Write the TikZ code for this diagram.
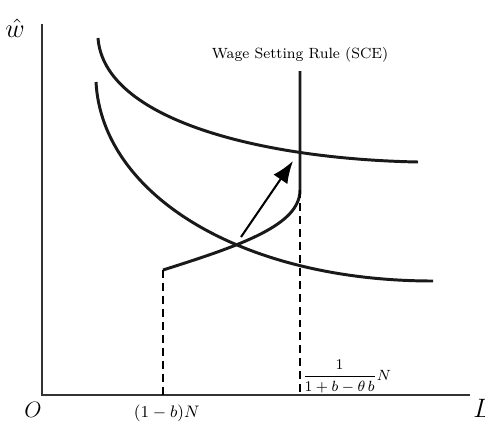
\documentclass[tikz,border=0pt]{standalone}
\usepackage{amsmath,amssymb}
\usetikzlibrary{positioning,arrows.meta}
\tikzset{
  figaxis/.style={line width=1pt, black!80},
  figcurve/.style={line width=1.6pt, black!90},
  figguide/.style={dash pattern=on 4.3pt off 2.7pt, line width=0.7pt},
  figarrow/.style={-{Latex[length=4.2mm,width=3.2mm]}, line width=1.1pt},
  figlabel/.style={font=\small, inner sep=1pt},
}
\begin{document}
\begin{tikzpicture}[x=0.019cm, y=0.019cm]
  \useasboundingbox (-42,-26) rectangle (443,395);
  % axes
  \coordinate (O) at (0,0);
  \coordinate (ytop) at (0,371);
  \coordinate (xend) at (428,0);
  \draw[figaxis] (ytop) -- (O) -- (xend);
  \node[font=\Large, inner sep=0] (wlab) at (-27,367) {$\hat{w}$};
  \node[font=\large, inner sep=0] (olab) at (-9,-15) {$O$};
  \node[font=\Large, inner sep=0, anchor=west] (llab) at (431,-13) {$L$};
  % the two downward curves
  \draw[figcurve] (56,357) .. controls (62,275) and (220,236) .. (376,233);
  \draw[figcurve] (54,313) .. controls (60,200) and (200,114) .. (391,114);
  % wage setting rule
  \coordinate (wlow) at (121,125);
  \coordinate (wkink) at (258,205);
  \coordinate (wtop) at (258,324);
  \draw[figcurve] (wlow) .. controls (200,150) and (258,170) .. (wkink) -- (wtop);
  \node[figlabel, font=\footnotesize, above=1.2mm of wtop] (wsr) {Wage Setting Rule (SCE)};
  % shift
  \coordinate (atail) at (199,158);
  \coordinate (ahead) at (251,234);
  \draw[figarrow] (atail) -- (ahead);
  % guides down to the axis
  \coordinate (wlowx) at (121,0);
  \coordinate (wkinkx) at (258,0);
  \draw[figguide] (wlow) -- (wlowx);
  \draw[figguide] (wkink) -- (wkinkx);
  \node[figlabel, below=1.5mm of wlowx, xshift=2pt] (bn) {$(1-b)N$};
  \node[figlabel, anchor=south west, inner sep=0.5pt, font=\footnotesize] (fn) at (259,1) {$\dfrac{1}{1+b-\theta\,b}N$};
\end{tikzpicture}
\end{document}
